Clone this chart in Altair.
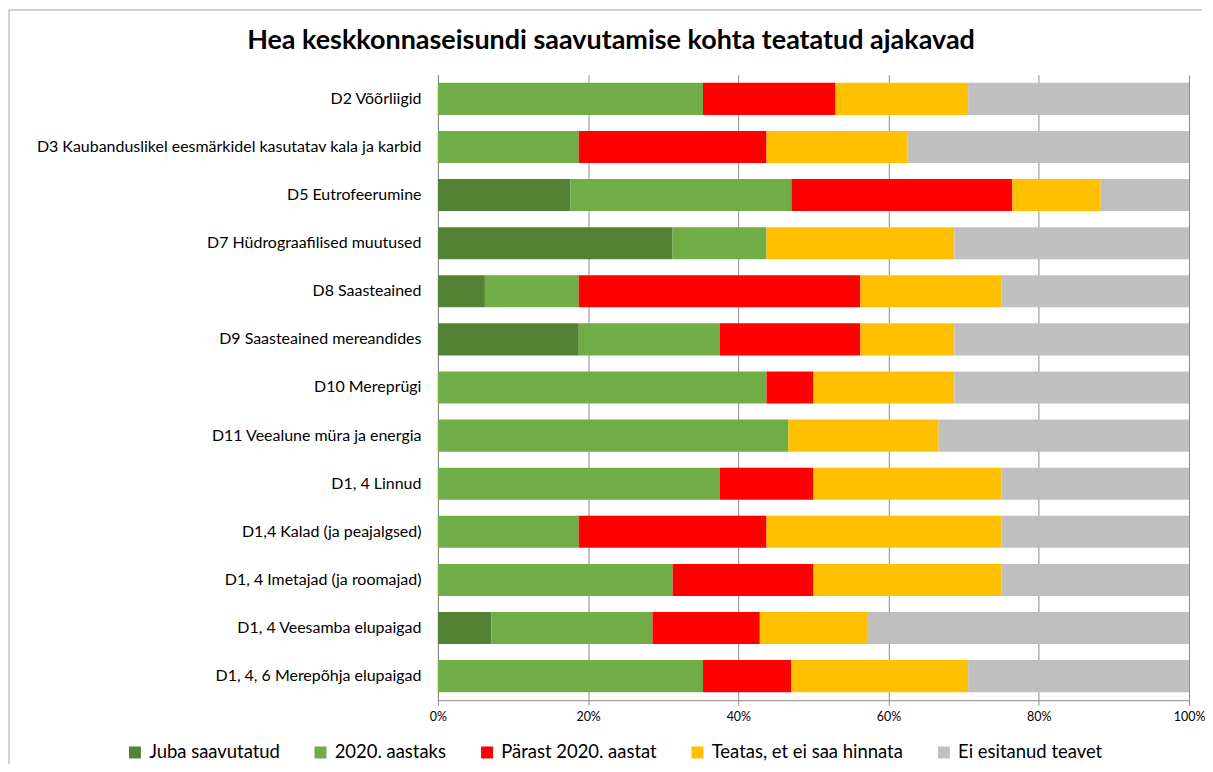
import altair as alt
import pandas as pd

categories = [
    "D2 Võõrliigid",
    "D3 Kaubanduslikel eesmärkidel kasutatav kala ja karbid",
    "D5 Eutrofeerumine",
    "D7 Hüdrograafilised muutused",
    "D8 Saasteained ",
    "D9 Saasteained mereandides",
    "D10 Mereprügi",
    "D11 Veealune müra ja energia",
    "D1, 4 Linnud",
    "D1,4 Kalad (ja peajalgsed)",
    "D1, 4 Imetajad (ja roomajad)",
    "D1, 4 Veesamba elupaigad",
    "D1, 4, 6 Merepõhja elupaigad",
]
series = ["Juba saavutatud", "2020. aastaks", "Pärast 2020. aastat",
          "Teatas, et ei saa hinnata", "Ei esitanud teavet"]
colors = ["#548235", "#70AD47", "#FF0000", "#FFC000", "#BFBFBF"]

juba = [0, 0, 17.65, 31.25, 6.25, 18.75, 0, 0, 0, 0, 0, 7.14, 0]
aastaks = [35.29, 18.75, 29.41, 12.5, 12.5, 18.75, 43.75, 46.67, 37.5, 18.75, 31.25, 21.43, 35.29]
parast = [17.65, 25.0, 29.41, 0, 37.5, 18.75, 6.25, 0, 12.5, 25.0, 18.75, 14.29, 11.76]
teatas = [17.65, 18.75, 11.76, 25.0, 18.75, 12.5, 18.75, 20.0, 25.0, 31.25, 25.0, 14.29, 23.53]
ei = [29.41, 37.5, 11.76, 31.25, 25.0, 31.25, 31.25, 33.33, 25.0, 25.0, 25.0, 42.86, 29.41]

cols = [juba, aastaks, parast, teatas, ei]
rows = []
for si, (s, vals) in enumerate(zip(series, cols)):
    for c, v in zip(categories, vals):
        rows.append({"category": c, "series": s, "order": si, "value": v})
df = pd.DataFrame(rows)

FONT = "Lato"
GRID = "#8C8C8C"

bars = alt.Chart(df).mark_bar().encode(
    y=alt.Y("category:N", sort=categories, title=None,
            scale=alt.Scale(paddingInner=0.333, paddingOuter=0.167),
            axis=alt.Axis(ticks=False, labelPadding=17, labelFontSize=16,
                          labelColor="#000000", domainColor=GRID, labelLimit=500,
                          labelFont=FONT)),
    x=alt.X("value:Q", stack="normalize", title=None,
            axis=alt.Axis(format=".0%", values=[0, 0.2, 0.4, 0.6, 0.8, 1.0],
                          grid=True, gridColor=GRID, domainColor=GRID,
                          tickColor=GRID, tickSize=5, labelFontSize=12.5,
                          labelFlush=False,
                          labelColor="#000000", labelFont=FONT, labelPadding=5)),
    color=alt.Color("series:N", sort=series,
                    scale=alt.Scale(domain=series, range=colors),
                    legend=alt.Legend(title=None, orient="none", direction="horizontal",
                                      legendX=-313, legendY=670,
                                      symbolType="square", symbolSize=144,
                                      symbolStrokeWidth=0, labelFontSize=18.5,
                                      labelFont=FONT, labelColor="#000000",
                                      labelLimit=400,
                                      columnPadding=31, labelOffset=5)),
    order=alt.Order("order:Q", sort="ascending"),
)

frame_df = pd.DataFrame({"a": [0]})
frame_left = alt.Chart(frame_df).mark_rule(color="#A6A6A6", strokeWidth=1).encode(
    x=alt.value(-430), y=alt.value(-65), y2=alt.value(691))
frame_top = alt.Chart(frame_df).mark_rule(color="#A6A6A6", strokeWidth=1).encode(
    x=alt.value(-430), x2=alt.value(766), y=alt.value(-65))

chart = alt.layer(bars, frame_left, frame_top).properties(
    width=753, height=627, padding=0,
    title=alt.TitleParams("Hea keskkonnaseisundi saavutamise kohta teatatud ajakavad",
                          font=FONT, fontSize=27, fontWeight="bold", color="#000000",
                          anchor="middle", frame="group", dx=-203, dy=46, offset=0),
).configure_view(stroke=None)

chart.save("out.html", embed_options={"renderer": "svg", "actions": False})
